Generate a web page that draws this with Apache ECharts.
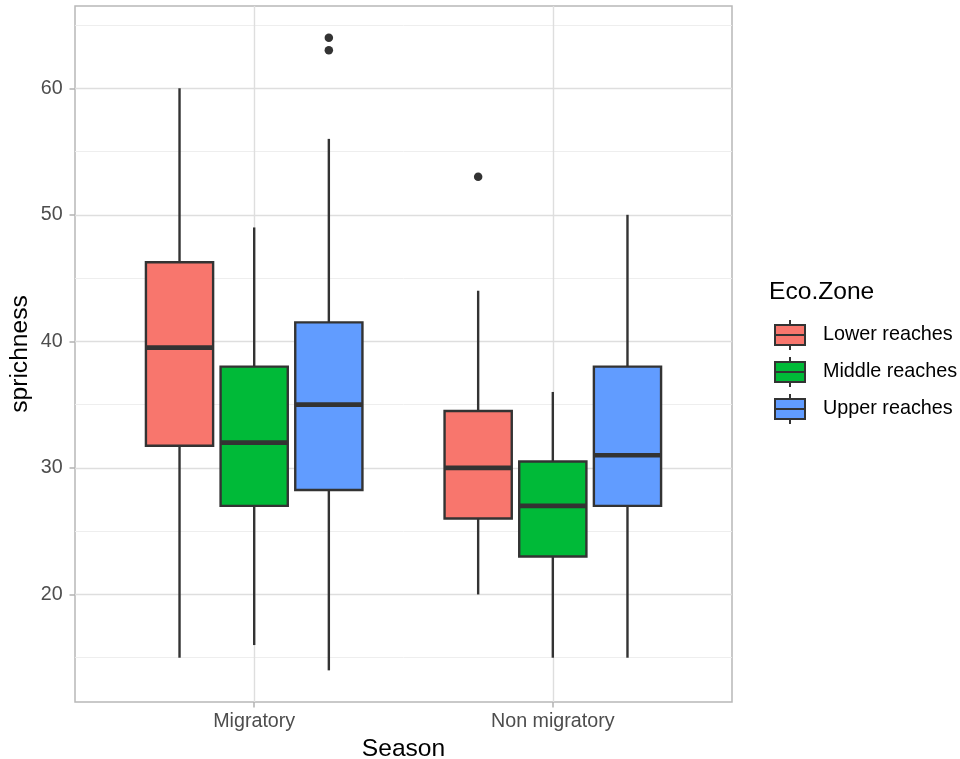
<!DOCTYPE html>
<html>
<head>
<meta charset="utf-8">
<script src="https://cdn.jsdelivr.net/npm/echarts@6/dist/echarts.min.js"></script>
<style>
  html, body { margin: 0; padding: 0; background: #fff; }
  #chart { width: 960px; height: 759px; }
</style>
</head>
<body>
<div id="chart"></div>
<script>
// ---- data ----
const categories = ['Migratory', 'Non migratory'];
const zones = ['Lower reaches', 'Middle reaches', 'Upper reaches'];
// [min whisker, Q1, median, Q3, max whisker] per category
const lowerStats  = [[15, 31.75, 39.5, 46.25, 60], [20, 26, 30, 34.5, 44]];
const middleStats = [[16, 27, 32, 38, 49],        [15, 23, 27, 30.5, 36]];
const upperStats  = [[14, 28.25, 35, 41.5, 56],   [15, 27, 31, 38, 50]];
const lowerOutliers  = [[], [53]];
const middleOutliers = [[], []];
const upperOutliers  = [[64, 63], []];
const yTicks = [20, 30, 40, 50, 60];
const yMinorTicks = [15, 25, 35, 45, 55, 65];

// ---- styling / layout ----
const FONT = '"Liberation Sans", Arial, Helvetica, sans-serif';
const zoneColors = ['#F8766D', '#00BA38', '#619CFF'];
const dodge = [-0.25, 0, 0.25];
const boxWidth = 0.225;
const lineCol = '#333333';
const statsList = [lowerStats, middleStats, upperStats];
const outlierList = [lowerOutliers, middleOutliers, upperOutliers];

function makeRenderItem(offset) {
  return function (params, api) {
    const x = api.value(0) + offset;
    const pMin = api.coord([x, api.value(1)]);
    const pQ1 = api.coord([x, api.value(2)]);
    const pMed = api.coord([x, api.value(3)]);
    const pQ3 = api.coord([x, api.value(4)]);
    const pMax = api.coord([x, api.value(5)]);
    const w = api.size([boxWidth, 0])[0];
    const cx = pMed[0];
    const color = api.visual('color');
    return {
      type: 'group',
      children: [
        { type: 'line', shape: { x1: cx, y1: pMax[1], x2: cx, y2: pQ3[1] },
          style: { stroke: lineCol, lineWidth: 2.4 } },
        { type: 'line', shape: { x1: cx, y1: pQ1[1], x2: cx, y2: pMin[1] },
          style: { stroke: lineCol, lineWidth: 2.4 } },
        { type: 'rect', shape: { x: cx - w / 2, y: pQ3[1], width: w, height: pQ1[1] - pQ3[1] },
          style: { fill: color, stroke: lineCol, lineWidth: 2.4 } },
        { type: 'line', shape: { x1: cx - w / 2, y1: pMed[1], x2: cx + w / 2, y2: pMed[1] },
          style: { stroke: lineCol, lineWidth: 4.6 } }
      ]
    };
  };
}

const series = [];
zones.forEach(function (z, i) {
  series.push({
    name: z,
    type: 'custom',
    renderItem: makeRenderItem(dodge[i]),
    itemStyle: { color: zoneColors[i] },
    encode: { x: 0, y: [1, 2, 3, 4, 5] },
    data: statsList[i].map(function (s, ci) { return [ci + 1].concat(s); }),
    z: 3
  });
});
zones.forEach(function (z, i) {
  const pts = [];
  outlierList[i].forEach(function (vals, ci) {
    vals.forEach(function (v) { pts.push([ci + 1 + dodge[i], v]); });
  });
  series.push({
    name: z,
    type: 'scatter',
    symbol: 'circle',
    symbolSize: 8.5,
    itemStyle: { color: lineCol, opacity: 1 },
    data: pts,
    z: 4
  });
});

const keyIcon = 'path://M0,5 L30,5 L30,25 L0,25 Z M0,15 L30,15 M15,0 L15,5 M15,25 L15,30';

const chart = echarts.init(document.getElementById('chart'), null, { renderer: 'canvas' });
chart.setOption({
  animation: false,
  backgroundColor: '#ffffff',
  title: {
    text: 'Eco.Zone',
    left: 769,
    top: 280,
    padding: 0,
    textStyle: { fontFamily: FONT, fontSize: 24.6, fontWeight: 'normal', color: '#000000' }
  },
  legend: {
    orient: 'vertical',
    left: 774,
    top: 319,
    padding: 0,
    itemWidth: 30,
    itemHeight: 30,
    itemGap: 5,
    icon: keyIcon,
    selectedMode: false,
    data: zones,
    itemStyle: { borderColor: lineCol, borderWidth: 2 },
    textStyle: { fontFamily: FONT, fontSize: 19.8, color: '#000000', padding: [0, 0, 0, 13] }
  },
  grid: {
    left: 75, right: 228, top: 6, bottom: 57,
    containLabel: false,
    outerBoundsMode: 'none',
    show: true,
    borderColor: '#b8b8b8',
    borderWidth: 1.5,
    backgroundColor: '#ffffff'
  },
  xAxis: {
    type: 'value',
    min: 0.4,
    max: 2.6,
    name: 'Season',
    nameLocation: 'middle',
    nameGap: 34,
    nameTextStyle: { fontFamily: FONT, fontSize: 24.6, color: '#000000' },
    axisLine: { show: false },
    axisTick: { show: true, length: 5.5, customValues: [1, 2],
      lineStyle: { color: '#b3b3b3', width: 1.5 } },
    axisLabel: { customValues: [1, 2], margin: 9.5,
      fontFamily: FONT, fontSize: 19.7, color: '#4d4d4d',
      formatter: function (v) { return categories[Math.round(v) - 1]; } },
    splitLine: { show: true, lineStyle: { color: '#dedede', width: 1.4 } }
  },
  yAxis: [
    {
      type: 'value',
      min: 11.5,
      max: 66.5,
      name: 'sprichness',
      nameLocation: 'middle',
      nameGap: 42.5,
      nameMoveOverlap: false,
      nameTextStyle: { fontFamily: FONT, fontSize: 24.6, color: '#000000' },
      axisLine: { show: false },
      axisTick: { show: true, length: 5.5, customValues: yTicks,
        lineStyle: { color: '#b3b3b3', width: 1.5 } },
      axisLabel: { customValues: yTicks, margin: 12.3,
        fontFamily: FONT, fontSize: 19.7, color: '#4d4d4d' },
      splitLine: { show: true, lineStyle: { color: '#dedede', width: 1.4 } }
    },
    {
      type: 'value',
      min: 11.5,
      max: 66.5,
      position: 'left',
      axisLine: { show: false },
      axisTick: { show: false, customValues: yMinorTicks },
      axisLabel: { show: false, customValues: yMinorTicks },
      splitLine: { show: true, lineStyle: { color: '#ececec', width: 0.9 } }
    }
  ],
  series: series
});
</script>
</body>
</html>
